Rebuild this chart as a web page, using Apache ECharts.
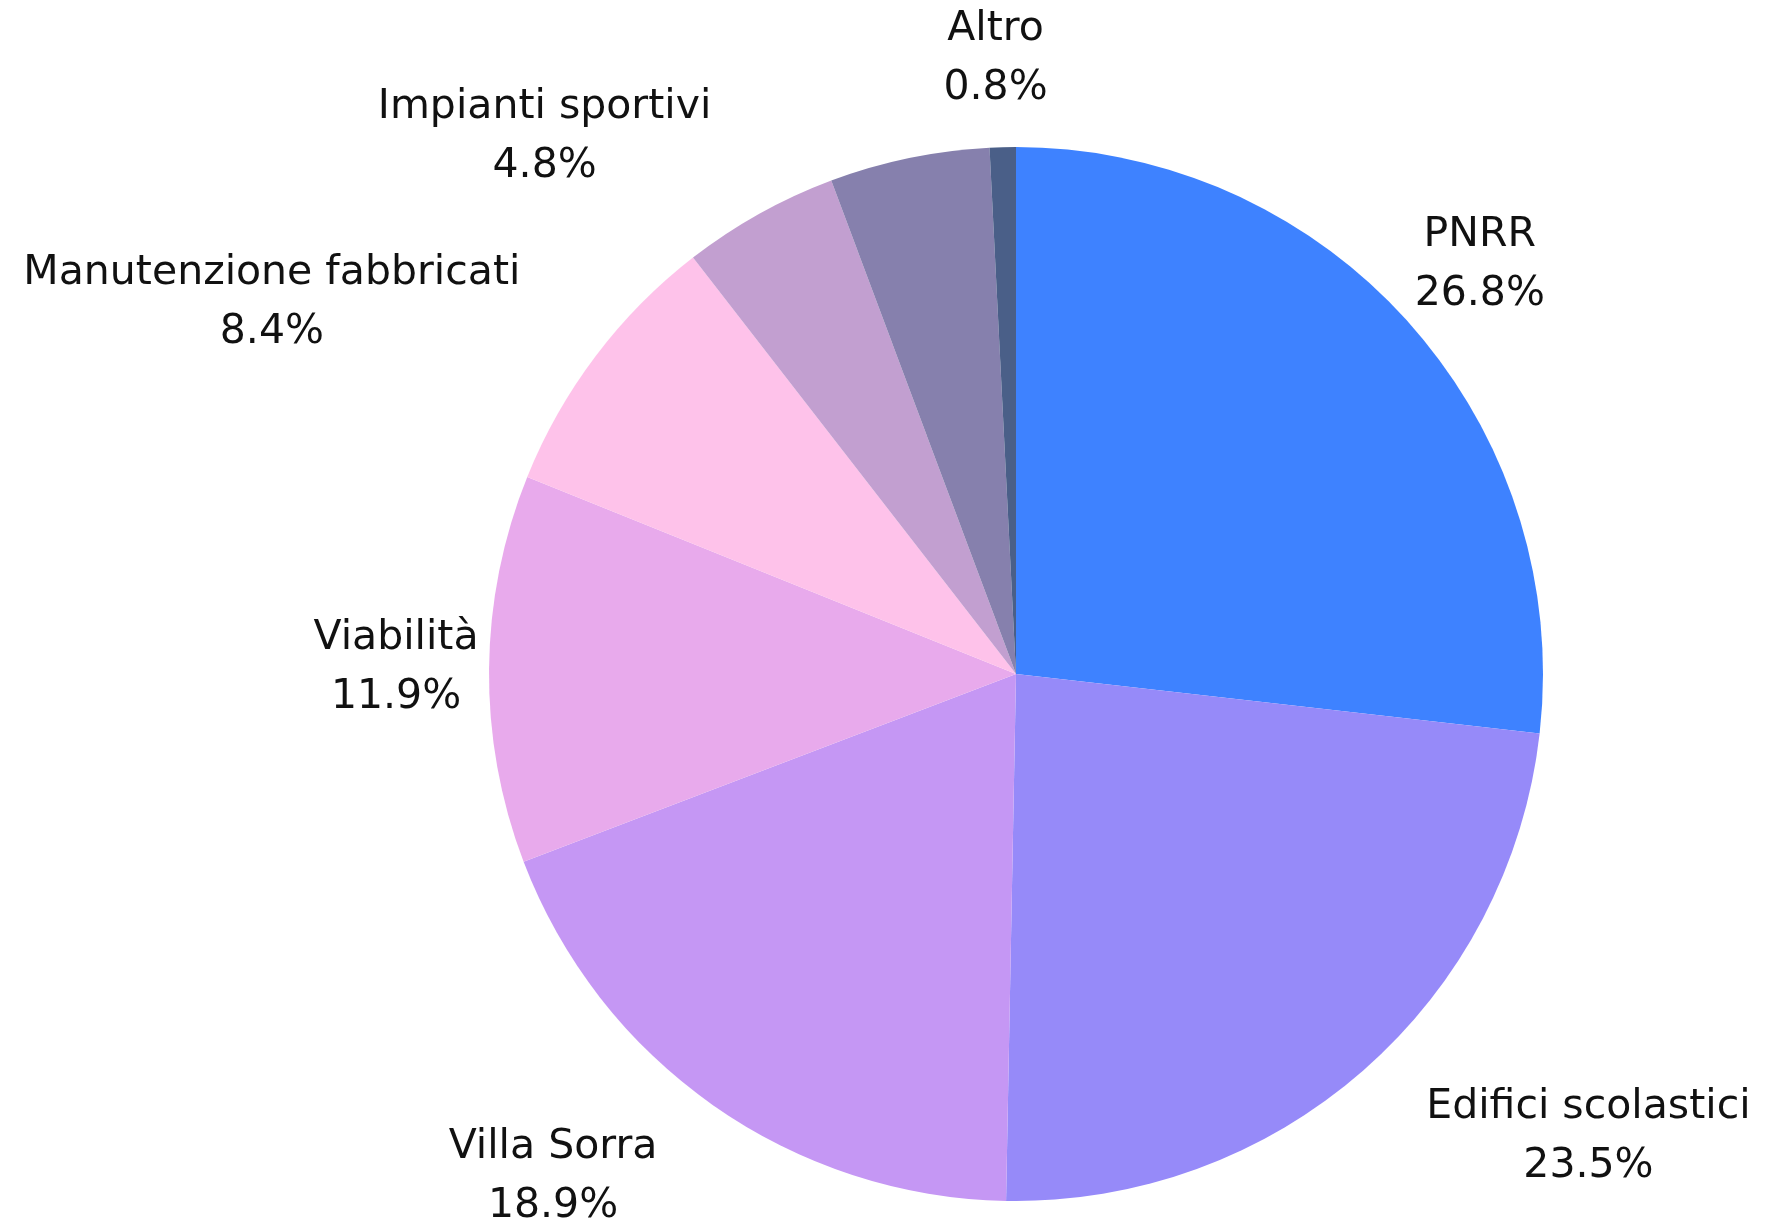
<!DOCTYPE html>
<html>
<head>
<meta charset="utf-8">
<style>
  html, body { margin: 0; padding: 0; background: #fff; }
  #main { width: 1778px; height: 1224px; }
</style>
<script src="https://cdn.jsdelivr.net/npm/echarts@6/dist/echarts.min.js"></script>
</head>
<body>
<div id="main"></div>
<script>
// categories, clockwise from the top
var categories = ['PNRR', 'Edifici scolastici', 'Villa Sorra', 'Viabilità',
  'Manutenzione fabbricati', 'Impianti sportivi', '', 'Altro'];
// share of total, %  (the unlabeled slice has no label in the picture)
var shares = [26.8, 23.5, 18.9, 11.9, 8.4, 4.8, 4.9, 0.8];
var colors = ['#3e82ff', '#968af9', '#c597f4', '#e8aaec',
  '#fec2ea', '#c29fd0', '#8680ad', '#4a5f88'];

var PIE_CENTER = [1016, 674];
var PIE_RADIUS = 527;
var FONT = 'DejaVu Sans';
var FS = 41;
var LH = 59;

var chartDom = document.getElementById('main');
var myChart = echarts.init(chartDom);

var seriesData = categories.map(function (name, i) {
  var item = { name: name, value: shares[i], itemStyle: { color: colors[i] } };
  if (name === '') {
    item.label = { show: false };
  }
  return item;
});

// center the label on its anchor, unless the centred box would cover the pie
function centerIfFree(params) {
  var r = params.labelRect;
  if (!r) return;
  var ax = params.align === 'right' ? r.x + r.width : (params.align === 'left' ? r.x : r.x + r.width / 2);
  var x0 = ax - r.width / 2, x1 = ax + r.width / 2;
  var y0 = r.y, y1 = r.y + r.height;
  var nx = Math.max(x0, Math.min(PIE_CENTER[0], x1));
  var ny = Math.max(y0, Math.min(PIE_CENTER[1], y1));
  var d = Math.sqrt(Math.pow(nx - PIE_CENTER[0], 2) + Math.pow(ny - PIE_CENTER[1], 2));
  if (d > PIE_RADIUS) {
    return { align: 'center' };
  }
}

var option = {
  backgroundColor: '#ffffff',
  animation: false,
  series: [
    {
      type: 'pie',
      center: PIE_CENTER,
      radius: PIE_RADIUS,
      startAngle: 90,
      clockwise: true,
      avoidLabelOverlap: false,
      data: seriesData,
      label: {
        show: true,
        position: 'outside',
        fontFamily: FONT,
        fontSize: FS,
        color: '#111',
        lineHeight: LH,
        formatter: function (p) {
          return '{n|' + p.name + '}\n{p|' + p.value.toFixed(1) + '%}';
        },
        rich: {
          n: { align: 'center', fontFamily: FONT, fontSize: FS, lineHeight: LH, color: '#111' },
          p: { align: 'center', fontFamily: FONT, fontSize: FS, lineHeight: LH, color: '#111' }
        }
      },
      labelLine: {
        show: false,
        length: 88,
        length2: 0
      },
      labelLayout: centerIfFree,
      emphasis: { disabled: true }
    }
  ]
};

option && myChart.setOption(option);
</script>
</body>
</html>
